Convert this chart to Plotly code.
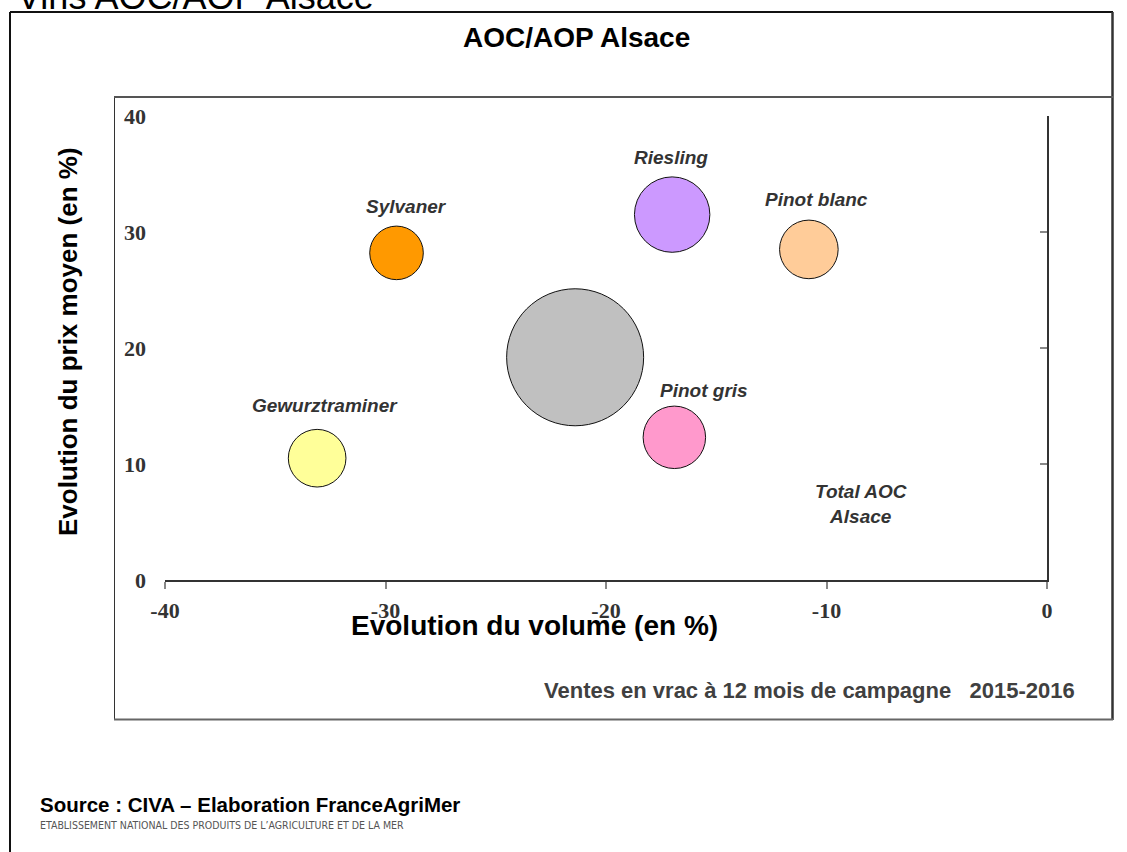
import plotly.graph_objects as go

# ---------------- data ----------------
categories = ["Sylvaner", "Riesling", "Pinot blanc", "Total AOC Alsace", "Pinot gris", "Gewurztraminer"]
volume_change = [-29.5, -17.0, -10.8, -21.4, -16.9, -33.1]   # Evolution du volume (en %)
price_change = [28.2, 31.5, 28.5, 19.2, 12.3, 10.5]          # Evolution du prix moyen (en %)
bubble_weight = [15.3, 30.3, 18.3, 100.0, 20.8, 17.7]        # relative volume (bubble area)
x_ticks = [-40, -30, -20, -10, 0]
y_ticks = [0, 10, 20, 30, 40]

# ---------------- styles ----------------
colors = ["#FF9900", "#CC99FF", "#FFCC99", "#C0C0C0", "#FF99CC", "#FFFF99"]
label_shift = [(10, 46), (-1, 57), (8, 50), (286, -147), (30, 47), (8, 53)]

W, H = 1127, 852
L, R, T, B = 165, 80, 116, 272
PW, PH = W - L - R, H - T - B


def px(x):
    return (x - L) / PW


def py(y):
    return (H - B - y) / PH


fig = go.Figure()
# bubbles (drawn on the right-hand axis, which carries the axis line and ticks)
fig.add_trace(go.Scatter(
    x=volume_change, y=price_change, mode="markers", yaxis="y2",
    text=categories, hoverinfo="text", showlegend=False, cliponaxis=False,
    marker=dict(size=bubble_weight, sizemode="area",
                sizeref=2 * max(bubble_weight) / 137 ** 2,
                color=colors, opacity=1,
                line=dict(color="#111111", width=1)),
))
# same points, transparent, on the left axis so its tick labels are drawn
fig.add_trace(go.Scatter(
    x=volume_change, y=price_change, mode="markers", yaxis="y",
    hoverinfo="skip", showlegend=False,
    marker=dict(size=1, opacity=0),
))

tick_font = dict(family="Liberation Serif", size=22, color="#333333", weight="bold")
label_font = dict(family="Liberation Sans", size=19, color="#333333", weight="bold", style="italic")

annotations = []
for name, xv, yv, (dx, dy) in zip(categories, volume_change, price_change, label_shift):
    annotations.append(dict(
        text=name.replace("AOC ", "AOC<br>"), x=xv, y=yv, xref="x", yref="y2",
        xshift=dx, yshift=dy, showarrow=False, font=label_font,
        xanchor="center", yanchor="middle", align="center"))

annotations += [
    dict(text="Vins AOC/AOP Alsace", x=px(15), y=py(-3.5), xref="paper", yref="paper",
         xanchor="left", yanchor="middle", showarrow=False,
         font=dict(family="Liberation Sans", size=36, color="#000000")),
    dict(text="AOC/AOP Alsace", x=px(576), y=py(38), xref="paper", yref="paper",
         xanchor="center", yanchor="middle", showarrow=False,
         font=dict(family="Liberation Sans", size=28, color="#000000", weight="bold")),
    dict(text="Evolution du volume (en %)", x=px(534), y=py(625), xref="paper", yref="paper",
         xanchor="center", yanchor="middle", showarrow=False,
         font=dict(family="Liberation Sans", size=28, color="#000000", weight="bold")),
    dict(text="Evolution du prix moyen (en %)", x=px(68), y=py(342), xref="paper", yref="paper",
         xanchor="center", yanchor="middle", showarrow=False, textangle=-90,
         font=dict(family="Liberation Sans", size=26, color="#000000", weight="bold")),
    dict(text="Ventes en vrac à 12 mois de campagne\u00a0\u00a0\u00a02015-2016", x=px(1077), y=py(690),
         xref="paper", yref="paper", xanchor="right", yanchor="middle", showarrow=False,
         font=dict(family="Liberation Sans", size=22, color="#404040", weight="bold")),
    dict(text="Source : CIVA – Elaboration FranceAgriMer", x=px(38), y=py(804),
         xref="paper", yref="paper", xanchor="left", yanchor="middle", showarrow=False,
         font=dict(family="Liberation Sans", size=20.5, color="#000000", weight="bold")),
    dict(text="ETABLISSEMENT NATIONAL DES PRODUITS DE L’AGRICULTURE ET DE LA MER", x=px(38), y=py(825),
         xref="paper", yref="paper", xanchor="left", yanchor="middle", showarrow=False,
         font=dict(family="DejaVu Sans Condensed, Liberation Sans Narrow, Arial", size=10.5, color="#555555")),
]


def hline(x0, x1, y, color, width):
    return dict(type="line", xref="paper", yref="paper", x0=px(x0), x1=px(x1), y0=py(y), y1=py(y),
                line=dict(color=color, width=width))


def vline(x, y0, y1, color, width):
    return dict(type="line", xref="paper", yref="paper", x0=px(x), x1=px(x), y0=py(y0), y1=py(y1),
                line=dict(color=color, width=width))


shapes = [
    vline(10, 12, 860, "#111111", 2),
    hline(10, 1113, 12, "#111111", 2),
    vline(1112.5, 12, 720, "#333333", 2.5),
    vline(114.5, 97, 720, "#333333", 1),
    hline(114, 1113, 97, "#555555", 2),
    hline(114, 1113, 719.5, "#666666", 2),
]

fig.update_layout(
    width=W, height=H,
    margin=dict(l=L, r=R, t=T, b=B, pad=0),
    paper_bgcolor="white", plot_bgcolor="white",
    showlegend=False,
    annotations=annotations,
    shapes=shapes,
    xaxis=dict(range=[-40, 0], tickvals=x_ticks, ticktext=[str(v) for v in x_ticks],
               showline=True, linecolor="#333333", linewidth=1.5,
               ticks="outside", ticklen=7, tickwidth=1.5, tickcolor="#888888",
               showgrid=False, zeroline=False, tickfont=tick_font, ticklabelstandoff=3,
               fixedrange=True),
    yaxis=dict(range=[0, 40], tickvals=y_ticks, ticktext=[str(v) for v in y_ticks],
               side="left", showline=False, ticks="", showgrid=False, zeroline=False,
               tickfont=tick_font, ticklabelstandoff=18, fixedrange=True),
    yaxis2=dict(range=[0, 40], tickvals=y_ticks, overlaying="y", side="right", anchor="x",
                showline=True, linecolor="#333333", linewidth=1.5,
                ticks="inside", ticklen=7, tickwidth=1.5, tickcolor="#888888",
                showticklabels=False, showgrid=False, zeroline=False, fixedrange=True),
)

fig.write_html("out.html", config={"displayModeBar": False},
               post_script="document.body.style.margin='0px';")
